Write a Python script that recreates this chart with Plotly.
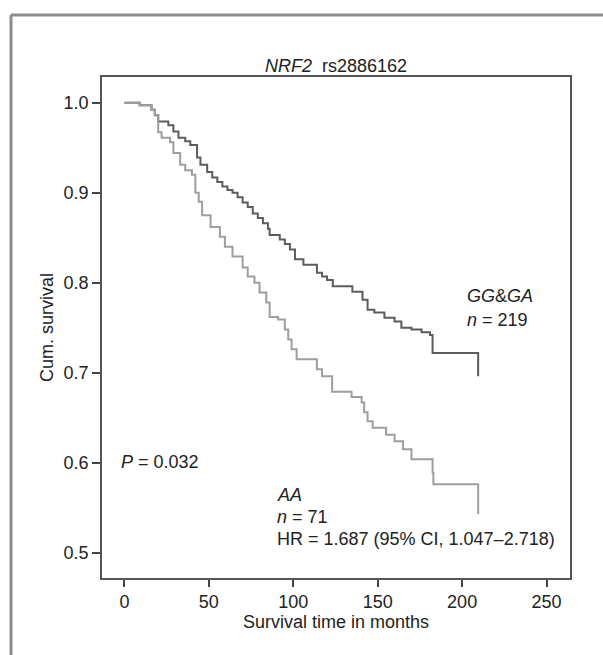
import plotly.graph_objects as go

# Kaplan-Meier step points (months, cumulative survival)
gg_ga_months = [0, 9, 16, 18, 20, 26, 29, 32, 36, 39, 43, 45, 49, 52, 55, 58, 61, 64,
                67, 70, 73, 76, 79, 82, 85, 86, 92, 95, 98, 101, 106, 114, 117, 120,
                123.4, 135, 141, 144, 148, 154, 160, 164, 170, 176, 181, 182.5, 209.5]
gg_ga_surv = [1.0, 0.997, 0.992, 0.986, 0.979, 0.975, 0.968, 0.961, 0.957, 0.953,
              0.939, 0.931, 0.923, 0.917, 0.912, 0.907, 0.903, 0.900, 0.895, 0.889,
              0.884, 0.877, 0.872, 0.866, 0.860, 0.853, 0.848, 0.843, 0.837, 0.826,
              0.820, 0.811, 0.807, 0.803, 0.796, 0.790, 0.781, 0.770, 0.767, 0.761,
              0.757, 0.750, 0.748, 0.745, 0.742, 0.722, 0.696]

aa_months = [0, 9, 16, 18, 20, 22, 27, 29, 33, 36, 40, 42, 44, 46, 51, 56.5, 59.5, 64,
             70, 73, 77, 80, 84, 86, 91, 95, 97, 99, 102, 114, 117, 123, 134.5, 140.5,
             142, 144, 147, 155, 160, 165, 170, 182.5, 183, 209.5]
aa_surv = [1.0, 0.997, 0.992, 0.986, 0.967, 0.961, 0.956, 0.944, 0.931, 0.925, 0.920,
           0.900, 0.890, 0.875, 0.862, 0.851, 0.840, 0.829, 0.817, 0.807, 0.800, 0.789,
           0.778, 0.762, 0.759, 0.748, 0.737, 0.726, 0.715, 0.704, 0.696, 0.679, 0.673,
           0.667, 0.656, 0.646, 0.639, 0.631, 0.624, 0.615, 0.604, 0.589, 0.576, 0.543]

x_ticks = [0, 50, 100, 150, 200, 250]
y_ticks = [0.5, 0.6, 0.7, 0.8, 0.9, 1.0]

FONT = "Liberation Sans, Arial, sans-serif"
FS = 18

fig = go.Figure()
fig.add_trace(go.Scatter(x=gg_ga_months, y=gg_ga_surv, mode="lines",
                         line=dict(shape="hv", color="#5c5c5c", width=2),
                         showlegend=False, hoverinfo="skip"))
fig.add_trace(go.Scatter(x=aa_months, y=aa_surv, mode="lines",
                         line=dict(shape="hv", color="#9e9e9e", width=2),
                         showlegend=False, hoverinfo="skip"))

txt = dict(showarrow=False, xanchor="left", yanchor="middle",
           font=dict(family=FONT, size=FS, color="#222"))
fig.add_annotation(x=201.5, y=0.785, text="<i>GG</i>&amp;<i>GA</i>", **txt)
fig.add_annotation(x=201.5, y=0.759, text="<i>n</i> = 219", **txt)
fig.add_annotation(x=89, y=0.564, text="<i>AA</i>", **txt)
fig.add_annotation(x=89, y=0.540, text="<i>n</i> = 71", **txt)
fig.add_annotation(x=89, y=0.515, text="HR = 1.687 (95% CI, 1.047–2.718)", **txt)
fig.add_annotation(x=-3, y=0.601, text="<i>P</i> = 0.032", **txt)

# outer frame of the original figure (only top and left edges are visible)
frame = dict(type="line", xref="paper", yref="paper",
             line=dict(color="#8c8c8c", width=3))
fig.add_shape(x0=-0.1944, x1=1.2, y0=1.1238, y1=1.1238, **frame)
fig.add_shape(x0=-0.1944, x1=-0.1944, y0=1.1238, y1=-0.2, **frame)

axis_common = dict(showgrid=False, zeroline=False, showline=True, mirror=True,
                   linecolor="#555", linewidth=1.5, ticks="outside",
                   tickcolor="#444", tickwidth=1.5,
                   tickfont=dict(family=FONT, size=FS, color="#222"))

fig.update_xaxes(range=[-13.3, 263.9], tickvals=x_ticks, ticklen=7,
                 title=dict(text="Survival time in months", standoff=4,
                            font=dict(family=FONT, size=FS, color="#222")),
                 **axis_common)
fig.update_yaxes(range=[0.472, 1.0285], tickvals=y_ticks, tickformat=".1f", ticklen=8,
                 title=dict(text="Cum. survival", standoff=5,
                            font=dict(family=FONT, size=FS, color="#222")),
                 **axis_common)

fig.update_layout(
    width=603, height=655,
    margin=dict(l=102, r=33, t=77, b=77),
    paper_bgcolor="white", plot_bgcolor="white",
    title=dict(text="<i>NRF2</i>  rs2886162", x=0.5, xref="paper",
               y=1 - 66 / 655, yref="container", yanchor="middle",
               font=dict(family=FONT, size=FS, color="#222")),
)

# drop the browser's default 8px body margin so the figure sits at (0, 0)
fig.write_html("out.html", config={"displayModeBar": False},
               post_script="document.body.style.margin = '0';")
